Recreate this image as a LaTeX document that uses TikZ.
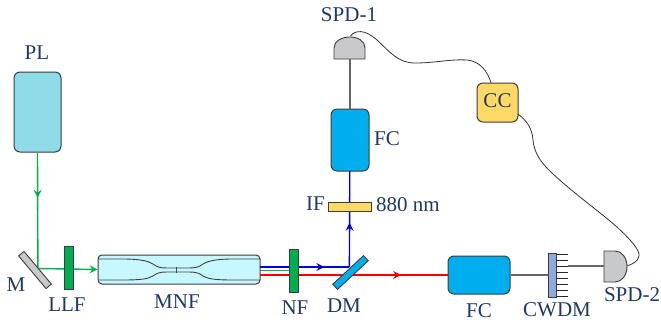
\documentclass[tikz,border=0pt]{standalone}
\usepackage{fontspec}
\setmainfont{Liberation Serif}
\usetikzlibrary{arrows.meta,decorations.markings}
\definecolor{lbl}{HTML}{1F3864}
\definecolor{bord}{HTML}{3C3C3C}
\definecolor{pump}{HTML}{8FDCE8}
\definecolor{fcblue}{HTML}{00AEEF}
\definecolor{filt}{HTML}{00AD50}
\definecolor{beamg}{HTML}{00B050}
\definecolor{beamb}{HTML}{0000D8}
\definecolor{beamr}{HTML}{F80000}
\definecolor{gold}{HTML}{FFD966}
\definecolor{tube}{HTML}{C8F8FF}
\definecolor{gr}{HTML}{C8C9CB}
\definecolor{cw}{HTML}{8EA9DB}
\tikzset{
 lab/.style={text=lbl,font=\fontsize{21}{23}\selectfont,inner sep=0pt},
 box/.style={draw=bord,line width=1pt,inner sep=0pt,rounded corners=#1},
 box/.default=6pt,
 plate/.style={draw=bord,line width=.9pt,inner sep=0pt},
 beam/.style={line width=1.4pt},
 midtip/.style={postaction={decorate},decoration={markings,mark=at position #1 with {\arrow{Stealth[length=8pt,width=8pt,inset=3pt]}}}},
 fibre/.style={draw=black!60,line width=1.2pt},
 wire/.style={draw=black!80,line width=.8pt},
 taper/.style={draw=black!75,line width=.9pt},
}
\begin{document}
\begin{tikzpicture}[x=1pt,y=-1pt]
\useasboundingbox (0,0) rectangle (661,324);
% boxes at the beam ends
\node[box=6pt,fill=pump,minimum width=47pt,minimum height=80pt] (pl) at (37.5,112) {};
\node[box=4pt,fill=tube,minimum width=162pt,minimum height=29pt] (mnf) at (179,269.5) {};
\node[box=6pt,fill=fcblue,minimum width=38pt,minimum height=62pt] (fc1) at (350,140) {};
\node[box=6pt,fill=fcblue,minimum width=62pt,minimum height=38pt] (fc2) at (479,275) {};
\node[box=6pt,fill=gold,minimum width=41pt,minimum height=39pt] (cc) at (497.5,102.5) {};
% beams
\coordinate (mh) at (37.9,268.5);
\coordinate (mnfb) at (260,267);
\coordinate (mnfg) at (260,270.5);
\coordinate (mnfr) at (260,275);
\coordinate (nfg) at (290,270.5);
\coordinate (dmb) at (349.4,267);
\coordinate (fcr) at (448,275);
\coordinate (fc1b) at (349.8,171);
\draw[beam,beamg,midtip=0.39] (pl.south) -- (mh);
\draw[beam,beamg,-{Stealth[length=8pt,width=8pt,inset=3pt]}] (mh) -- (mnf.west);
\draw[beam,beamb,midtip=0.72] (mnfb) -- (dmb);
\draw[beam,beamb,midtip=0.46] (dmb) -- (fc1b);
\draw[beam,beamg] (mnfg) -- (nfg);
\draw[beam,beamr,midtip=0.75] (mnfr) -- (fcr);
% plates above the beams
\node[plate,fill=gr,minimum width=42.6pt,minimum height=7pt,rotate=-50] (m) at (35,270) {};
\node[plate,fill=filt,minimum width=9pt,minimum height=43pt] (llf) at (68.5,267.5) {};
\node[plate,fill=filt,minimum width=8.5pt,minimum height=43pt] (nf) at (294,270.5) {};
\node[plate,fill=gold,minimum width=43pt,minimum height=9pt] (if) at (349.5,206.5) {};
\node[plate,fill=fcblue,minimum width=42pt,minimum height=7pt,rotate=43] (dm) at (350.5,272.5) {};
% tapers
\draw[taper] (98,259) -- (123,259) .. controls (140,259) and (148,261) .. (153,264) .. controls (157,267) and (160,268) .. (167,268) -- (189,268) .. controls (196,268) and (199,267) .. (203,264) .. controls (208,261) and (216,259) .. (233,259) -- (260,259);
\draw[taper] (98,280) -- (123,280) .. controls (140,280) and (148,279) .. (153,276) .. controls (157,273) and (160,272) .. (167,272) -- (189,272) .. controls (196,272) and (199,273) .. (203,276) .. controls (208,279) and (216,280) .. (233,280) -- (260,280);
\draw[draw=black!70,line width=.5pt] (176.5,267) -- (176.5,273);
% detector 1
\draw[fill=gr,draw=bord,line width=.9pt] (334,59) -- (334,48) .. controls (334,41) and (342,37) .. (350,37) .. controls (358,37) and (365,41) .. (365,48) -- (365,59) -- cycle;
\coordinate (spd1b) at (350,59);
\coordinate (spd1t) at (350.5,36);
% detector 2
\draw[fill=gr,draw=bord,line width=.9pt] (604,251) -- (615,251) .. controls (622,251) and (627,258) .. (627,266.5) .. controls (627,275) and (622,282) .. (615,282) -- (604,282) -- cycle;
\coordinate (spd2l) at (604,266);
\coordinate (spd2r) at (627,266);
% CWDM
\node[plate,fill=cw,minimum width=8pt,minimum height=44pt] (cwdm) at (552,275) {};
\foreach \i in {0,...,7}{
 \draw[draw=black!85,line width=.8pt] (556,254.5+\i*6) -- (568,254.5+\i*6);
}
\coordinate (tooth) at (568,266);
% fibres and wires
\draw[fibre] (spd1b) -- (fc1.north);
\draw[fibre] (fc2.east) -- (cwdm.west |- fc2.east);
\draw[fibre] (tooth) -- (spd2l);
\coordinate (ccs) at (518,114);
\coordinate (cct) at (491,83);
\draw[wire] (spd1t) .. controls (355,30) and (365,29) .. (377,40) .. controls (390,52) and (398,63) .. (415,63) .. controls (435,63) and (450,59) .. (467,60) .. controls (480,61) and (488,72) .. (cct);
\draw[wire] (ccs) .. controls (527,121) and (532,128) .. (533,140) .. controls (534,152) and (540,162) .. (552,173) .. controls (572,192) and (600,212) .. (617,227) .. controls (630,239) and (640,250) .. (639,256) .. controls (638,262) and (632,264) .. (spd2r);
% labels
\node[lab] (tpl) at (37,53) {PL};
\node[lab] (tm) at (16,285) {M};
\node[lab] (tllf) at (67,305) {LLF};
\node[lab] (tmnf) at (177,302) {MNF};
\node[lab] (tnf) at (295,308) {NF};
\node[lab] (tdm) at (344,306) {DM};
\node[lab] (tif) at (315.5,204) {IF};
\node[lab] (tnm) at (408,205) {880 nm};
\node[lab] (tfc1) at (387,139) {FC};
\node[lab] (tspd1) at (349,15) {SPD-1};
\node[lab] (tcc) at (497.5,101) {CC};
\node[lab] (tfc2) at (479,311) {FC};
\node[lab] (tcw) at (557,310) {CWDM};
\node[lab] (tspd2) at (632,295) {SPD-2};
\end{tikzpicture}
\end{document}
